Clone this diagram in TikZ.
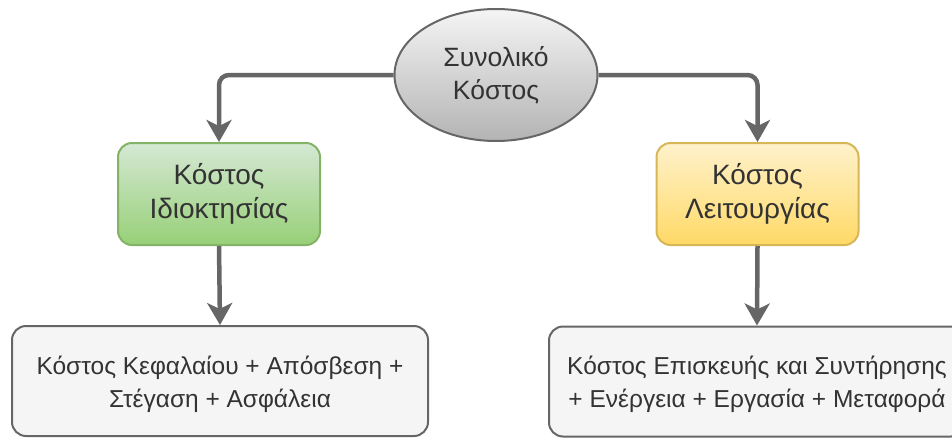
\documentclass[tikz,border=0pt]{standalone}
\usepackage{fontspec}
\setmainfont{Liberation Sans}
\usetikzlibrary{shapes.geometric,arrows.meta}
\definecolor{edgegray}{HTML}{666666}
\definecolor{boxfill}{HTML}{F5F5F5}
\definecolor{greentop}{HTML}{D5E8D4}
\definecolor{greenbot}{HTML}{97D077}
\definecolor{greenline}{HTML}{82B366}
\definecolor{yeltop}{HTML}{FFF2CC}
\definecolor{yelbot}{HTML}{FFD966}
\definecolor{yelline}{HTML}{D6B656}
\definecolor{graytop}{HTML}{F5F5F5}
\definecolor{graybot}{HTML}{B3B3B3}
\definecolor{txt}{HTML}{333333}
\begin{document}
\begin{tikzpicture}[x=1pt,y=-1pt,
  midbox/.style={draw, line width=2pt, rounded corners=14pt, minimum width=202pt, minimum height=102pt, align=center, font=\fontsize{28}{34}\selectfont, text=txt},
  leafbox/.style={draw=edgegray, fill=boxfill, line width=2pt, rounded corners=14pt, minimum width=416pt, minimum height=110pt},
  leaftext/.style={align=center, font=\fontsize{24.5}{33}\selectfont, text=txt},
  conn/.style={draw=edgegray, line width=4.5pt, rounded corners=10pt, -{Stealth[length=22pt,width=25pt,inset=6pt]}}
]
\useasboundingbox (0,0) rectangle (952,439);
\begin{scope}
\clip (0,0) rectangle (952,439);
\node[ellipse, draw=edgegray, line width=2pt, top color=graytop, bottom color=graybot, minimum width=203pt, minimum height=132pt, align=center, font=\fontsize{26.5}{33}\selectfont, text=txt] (top) at (496,75) {Συνολικό\\Κόστος};
\node[midbox, draw=greenline, top color=greentop, bottom color=greenbot] (own) at (219,194) {Κόστος\\Ιδιοκτησίας};
\node[midbox, draw=yelline, top color=yeltop, bottom color=yelbot] (op) at (757.5,194) {Κόστος\\Λειτουργίας};
\node[leafbox] (ownd) at (220,381) {};
\node[leafbox] (opd) at (757,381.5) {};
\node[leaftext] (owndt) at (220,384) {Κόστος Κεφαλαίου + Απόσβεση +\\Στέγαση + Ασφάλεια};
\node[leaftext] (opdt) at (757,384) {Κόστος Επισκευής και Συντήρησης\\+ Ενέργεια + Εργασία + Μεταφορά};
\draw[conn] (top.west) -| (own.north);
\draw[conn] (top.east) -| (op.north);
\draw[conn] (own.south) -- (ownd.north);
\draw[conn] (op.south) -- (opd.north);
\end{scope}
\end{tikzpicture}
\end{document}
